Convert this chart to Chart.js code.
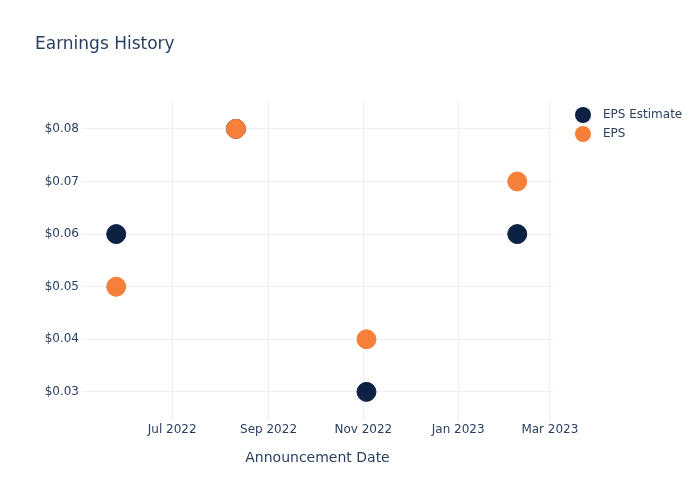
<!DOCTYPE html>
<html>
<head>
<meta charset="utf-8">
<script src="https://cdn.jsdelivr.net/npm/chart.js@4/dist/chart.umd.min.js"></script>
<style>
  html, body { margin: 0; padding: 0; background: #fff; }
  #wrap { width: 700px; height: 500px; }
</style>
</head>
<body>
<div id="wrap"><canvas id="epsChart"></canvas></div>
<script>
// announcement dates and values
const dates = ["2022-05-26", "2022-08-11", "2022-11-03", "2023-02-08"];
const epsEstimate = [0.06, 0.08, 0.03, 0.06];
const epsActual = [0.05, 0.08, 0.04, 0.07];
const xTickDates = ["2022-07-01", "2022-09-01", "2022-11-01", "2023-01-01", "2023-03-01"];
const yTicks = [0.03, 0.04, 0.05, 0.06, 0.07, 0.08];

const months = ["Jan", "Feb", "Mar", "Apr", "May", "Jun", "Jul", "Aug", "Sep", "Oct", "Nov", "Dec"];
const toTs = s => Date.parse(s + "T00:00:00Z");
const textColor = "#2a3f5f";
const gridColor = "#ebf0f8";
const FONT = "'DejaVu Sans', sans-serif";

const series = [
  { label: "EPS Estimate", values: epsEstimate, color: "#0d2142", order: 1 },
  { label: "EPS", values: epsActual, color: "#f5803a", order: 0 }
];

// title + legend drawn on the canvas
const extras = {
  id: "extras",
  afterDraw(chart) {
    const ctx = chart.ctx;
    ctx.save();
    ctx.fillStyle = textColor;
    ctx.font = "17px " + FONT;
    ctx.textBaseline = "middle";
    ctx.textAlign = "left";
    ctx.fillText("Earnings History", 35, 45);
    ctx.font = "12px " + FONT;
    series.forEach((s, i) => {
      const y = 115 + i * 19;
      ctx.beginPath();
      ctx.arc(583, y, 8, 0, Math.PI * 2);
      ctx.fillStyle = s.color;
      ctx.fill();
      ctx.fillStyle = textColor;
      ctx.fillText(s.label, 603, y);
    });
    ctx.restore();
  }
};

new Chart(document.getElementById("epsChart"), {
  type: "scatter",
  data: {
    datasets: series.map(s => ({
      label: s.label,
      data: dates.map((d, i) => ({ x: toTs(d), y: s.values[i] })),
      backgroundColor: s.color,
      borderColor: s.color,
      borderWidth: 1,
      pointRadius: 9.5,
      pointHoverRadius: 9.5,
      order: s.order
    }))
  },
  options: {
    responsive: true,
    maintainAspectRatio: false,
    animation: false,
    layout: { padding: { top: 101, right: 147, left: 0, bottom: 33 } },
    plugins: {
      legend: { display: false },
      tooltip: { enabled: false }
    },
    scales: {
      x: {
        type: "linear",
        min: toTs("2022-05-04"),
        max: toTs("2023-03-03"),
        border: { display: false },
        grid: { color: gridColor, drawTicks: false },
        afterBuildTicks: axis => { axis.ticks = xTickDates.map(d => ({ value: toTs(d) })); },
        ticks: {
          autoSkip: false,
          maxRotation: 0,
          padding: 2,
          color: textColor,
          font: { family: FONT, size: 12 },
          callback: v => {
            const d = new Date(v);
            return months[d.getUTCMonth()] + " " + d.getUTCFullYear();
          }
        },
        title: {
          display: true,
          text: "Announcement Date",
          color: textColor,
          font: { family: FONT, size: 14 },
          padding: { top: 11, bottom: 0 }
        }
      },
      y: {
        min: 0.0245,
        max: 0.0853,
        border: { display: false },
        grid: { color: gridColor, drawTicks: false },
        afterBuildTicks: axis => { axis.ticks = yTicks.map(v => ({ value: v })); },
        afterFit: axis => { axis.width = 82; },
        ticks: {
          padding: 3,
          color: textColor,
          font: { family: FONT, size: 12 },
          callback: v => "$" + v.toFixed(2)
        }
      }
    }
  },
  plugins: [extras]
});
</script>
</body>
</html>
